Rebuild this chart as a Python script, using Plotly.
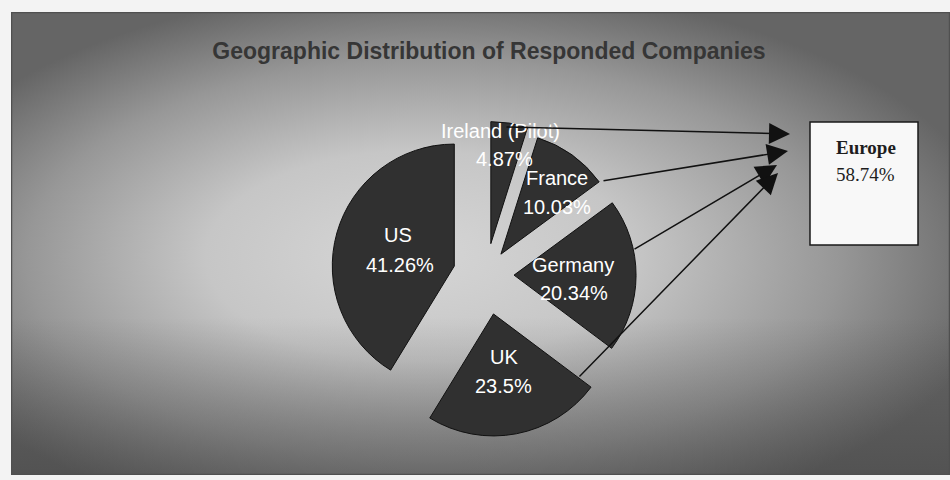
import base64
import plotly.graph_objects as go

# Survey respondents by country (share of companies, %)
countries = ["Ireland (Pilot)", "France", "Germany", "UK", "US"]
shares = [4.87, 10.03, 20.34, 23.5, 41.26]
european = ["Ireland (Pilot)", "France", "Germany", "UK"]

# How far each slice is pulled out (fraction of the radius)
pulls = [0.26, 0.21, 0.23, 0.325, 0.27]

W, H = 950, 480


def px_x(x):
    return x / W


def px_y(y):
    return 1 - y / H


# Shaded grey panel behind the chart
svg = """<svg xmlns='http://www.w3.org/2000/svg' width='939' height='463' viewBox='0 0 939 463' preserveAspectRatio='none'>
<defs>
<radialGradient id='g' cx='0.46' cy='0.54' r='0.6' fx='0.42' fy='0.52'>
<stop offset='0' stop-color='#d6d6d6'/>
<stop offset='0.38' stop-color='#c6c6c6'/>
<stop offset='0.72' stop-color='#979797'/>
<stop offset='1' stop-color='#656565'/>
</radialGradient>
<linearGradient id='b' x1='0' y1='0' x2='0' y2='1'>
<stop offset='0.66' stop-color='#3c3c3c' stop-opacity='0'/>
<stop offset='1' stop-color='#3c3c3c' stop-opacity='0.45'/>
</linearGradient>
</defs>
<rect width='939' height='463' fill='url(#g)'/>
<rect width='939' height='463' fill='url(#b)'/>
<rect x='0.5' y='0.5' width='938' height='462' fill='none' stroke='#505050' stroke-width='1.5'/>
</svg>"""
bg_src = "data:image/svg+xml;base64," + base64.b64encode(svg.encode()).decode()

# Pie placement: centre and radius in pixels
cx, cy, r = 486, 275, 122
box = 2 * r * (1 + max(pulls))

fig = go.Figure(
    go.Pie(
        labels=countries,
        values=shares,
        pull=pulls,
        sort=False,
        direction="clockwise",
        rotation=0,
        textinfo="none",
        hoverinfo="label+percent",
        marker=dict(colors=["#303030"] * len(countries), line=dict(color="#111111", width=1)),
        domain=dict(
            x=[px_x(cx - box / 2), px_x(cx + box / 2)],
            y=[px_y(cy + box / 2), px_y(cy - box / 2)],
        ),
        showlegend=False,
    )
)

label_font = dict(family="Liberation Sans, Arial", size=20, color="white")
box_font = dict(family="Liberation Serif, Times New Roman", size=19, color="#1e1e1e")


def text_at(x, y, text, font):
    return dict(
        x=px_x(x), y=px_y(y), xref="paper", yref="paper", showarrow=False,
        xanchor="center", yanchor="middle", text=text, font=font,
    )


# Slice labels (name + share), positioned in pixels
label_pos = {
    "Ireland (Pilot)": ((500, 131), (504, 159)),
    "France": ((557, 178), (557, 207)),
    "Germany": ((573, 265), (574, 293)),
    "UK": ((504, 357), (503, 386)),
    "US": ((398, 235), (400, 265)),
}
annotations = []
for name, val in zip(countries, shares):
    (nx, ny), (vx, vy) = label_pos[name]
    annotations.append(text_at(nx, ny, name, label_font))
    annotations.append(text_at(vx, vy, f"{val:g}%", label_font))

# Arrows from each European slice to the Europe total box: (tail, tip)
arrows = [
    ((505, 127), (790, 134)),
    ((602, 181), (788, 151)),
    ((633, 250), (777, 165)),
    ((578, 378), (778, 173)),
]
for (tx, ty), (hx, hy) in arrows:
    annotations.append(dict(
        x=px_x(hx), y=px_y(hy), xref="paper", yref="paper",
        ax=tx - hx, ay=ty - hy, axref="pixel", ayref="pixel",
        text="", showarrow=True, arrowhead=2, arrowsize=2.8, arrowwidth=1.5,
        arrowcolor="#111111",
    ))

europe_total = round(sum(v for c, v in zip(countries, shares) if c in european), 2)
annotations.append(text_at(866, 147, "<b>Europe</b>", box_font))
annotations.append(text_at(865, 174, f"{europe_total:.2f}%", box_font))

fig.update_layout(
    width=W, height=H,
    margin=dict(l=0, r=0, t=0, b=0),
    paper_bgcolor="#f3f3f3",
    plot_bgcolor="rgba(0,0,0,0)",
    title=dict(
        text="<b>Geographic Distribution of Responded Companies</b>",
        x=px_x(489), xanchor="center", y=px_y(51), yanchor="middle",
        font=dict(family="Liberation Sans, Arial", size=23, color="#363636"),
    ),
    images=[dict(
        source=bg_src, xref="paper", yref="paper",
        x=px_x(11), y=px_y(12), sizex=939 / W, sizey=463 / H,
        xanchor="left", yanchor="top", sizing="stretch", layer="below",
    )],
    shapes=[dict(
        type="rect", xref="paper", yref="paper",
        x0=px_x(810), x1=px_x(918), y0=px_y(245), y1=px_y(122),
        fillcolor="#f8f8f8", line=dict(color="#1a1a1a", width=1.5),
    )],
    annotations=annotations,
)

fig.write_html("out.html")
